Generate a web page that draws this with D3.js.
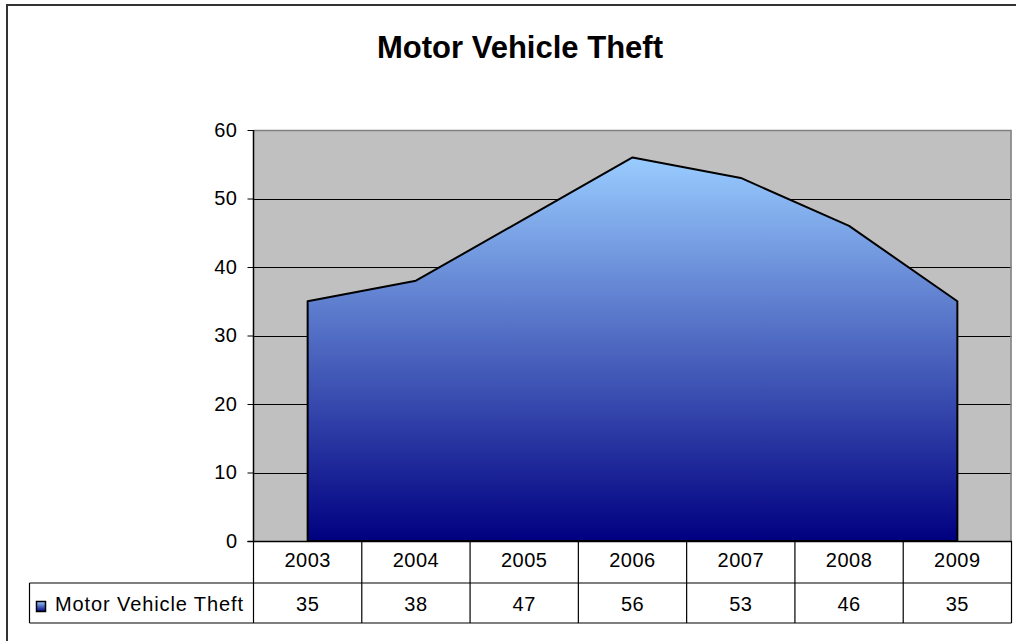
<!DOCTYPE html>
<html>
<head>
<meta charset="utf-8">
<script src="https://cdn.jsdelivr.net/npm/d3@7"></script>
<style>
  html, body { margin: 0; padding: 0; background: #fff; }
  svg { display: block; font-family: "Liberation Sans", Arial, sans-serif; }
</style>
</head>
<body>
<svg id="chart" width="1016" height="641"></svg>
<script>
const title = "Motor Vehicle Theft";
const seriesName = "Motor Vehicle Theft";
const categories = ["2003", "2004", "2005", "2006", "2007", "2008", "2009"];
const values = [35, 38, 47, 56, 53, 46, 35];
const yTicks = [0, 10, 20, 30, 40, 50, 60];

const svg = d3.select("#chart");

// layout
const plot = { left: 253.5, right: 1011.5, top: 130, bottom: 541 };
const row1Bottom = 583, row2Bottom = 623, legendLeft = 29.5;
const fontSize = 20;

const x = d3.scaleBand().domain(categories).range([plot.left, plot.right]).paddingInner(0).paddingOuter(0);
const y = d3.scaleLinear().domain([0, 60]).range([plot.bottom, plot.top]);
const cx = d => x(d) + x.bandwidth() / 2;

// outer chart border
svg.append("rect")
  .attr("x", 7).attr("y", 5).attr("width", 1100).attr("height", 700)
  .attr("fill", "none").attr("stroke", "#333").attr("stroke-width", 2);

// title
svg.append("text")
  .attr("x", 520).attr("y", 58)
  .attr("text-anchor", "middle")
  .attr("font-size", 31).attr("font-weight", "bold")
  .text(title);

// gradient
const defs = svg.append("defs");
const grad = defs.append("linearGradient").attr("id", "areaGrad")
  .attr("x1", 0).attr("y1", 0).attr("x2", 0).attr("y2", 1);
grad.append("stop").attr("offset", "0%").attr("stop-color", "#99CCFF");
grad.append("stop").attr("offset", "100%").attr("stop-color", "#000080");

const legGrad = defs.append("linearGradient").attr("id", "legGrad")
  .attr("x1", 0).attr("y1", 0).attr("x2", 0).attr("y2", 1);
legGrad.append("stop").attr("offset", "0%").attr("stop-color", "#99CCFF");
legGrad.append("stop").attr("offset", "100%").attr("stop-color", "#000080");

// plot background
svg.append("rect")
  .attr("x", plot.left).attr("y", plot.top)
  .attr("width", plot.right - plot.left).attr("height", plot.bottom - plot.top)
  .attr("fill", "#C0C0C0");

// gridlines
svg.append("g").selectAll("line").data(yTicks.filter(t => t > 0 && t < 60)).join("line")
  .attr("x1", plot.left).attr("x2", plot.right)
  .attr("y1", d => Math.round(y(d)) + 0.5).attr("y2", d => Math.round(y(d)) + 0.5)
  .attr("stroke", "#000").attr("stroke-width", 1);

// plot border top/right (gray)
svg.append("path")
  .attr("d", `M${plot.left},${plot.top + 0.5}H${plot.right - 0.5}V${plot.bottom}`)
  .attr("fill", "none").attr("stroke", "#808080").attr("stroke-width", 1.5);

// area
const area = d3.area()
  .x((d, i) => cx(categories[i]))
  .y0(y(0))
  .y1(d => y(d));
svg.append("path")
  .datum(values)
  .attr("d", area)
  .attr("fill", "url(#areaGrad)")
  .attr("stroke", "#000").attr("stroke-width", 2).attr("stroke-linejoin", "round");

// y axis
const yAxis = d3.axisLeft(y).tickValues(yTicks).tickSize(6).tickPadding(10);
const gy = svg.append("g").attr("transform", `translate(${plot.left},0)`).call(yAxis);
gy.select(".domain").attr("stroke", "#000").attr("stroke-width", 1.5)
  .attr("d", `M0,${plot.top}V${plot.bottom}`);
gy.selectAll(".tick line").attr("stroke", "#000");
gy.selectAll(".tick text").attr("font-size", fontSize).attr("font-family", "Liberation Sans, Arial, sans-serif")
  .attr("fill", "#000").attr("letter-spacing", "0.5px").attr("x", -16);

// x axis line
svg.append("line")
  .attr("x1", plot.left - 6).attr("x2", plot.right)
  .attr("y1", plot.bottom + 0.5).attr("y2", plot.bottom + 0.5)
  .attr("stroke", "#000").attr("stroke-width", 1.5);

// data table
const table = svg.append("g");
const tl = (x1, y1, x2, y2) => table.append("line")
  .attr("x1", x1).attr("y1", y1).attr("x2", x2).attr("y2", y2)
  .attr("stroke", "#000").attr("stroke-width", 1.2);

// vertical lines at category boundaries
categories.forEach(c => tl(x(c), plot.bottom, x(c), row2Bottom));
tl(plot.right, plot.bottom, plot.right, row2Bottom);
// horizontal lines
tl(legendLeft, row1Bottom, plot.right, row1Bottom);
tl(legendLeft, row2Bottom, plot.right, row2Bottom);
tl(legendLeft, row1Bottom, legendLeft, row2Bottom);

// year labels
table.selectAll("text.cat").data(categories).join("text")
  .attr("class", "cat")
  .attr("x", d => cx(d)).attr("y", 567)
  .attr("text-anchor", "middle").attr("font-size", fontSize).attr("letter-spacing", "0.5px")
  .text(d => d);

// values
table.selectAll("text.val").data(values).join("text")
  .attr("class", "val")
  .attr("x", (d, i) => cx(categories[i])).attr("y", 611)
  .attr("text-anchor", "middle").attr("font-size", fontSize).attr("letter-spacing", "0.5px")
  .text(d => d);

// legend key
table.append("rect")
  .attr("x", 36.5).attr("y", 601.5).attr("width", 9).attr("height", 10)
  .attr("fill", "url(#legGrad)").attr("stroke", "#000").attr("stroke-width", 1.5);
table.append("text")
  .attr("x", 55).attr("y", 611)
  .attr("font-size", fontSize).attr("textLength", 188).attr("lengthAdjust", "spacing")
  .text(seriesName);
</script>
</body>
</html>
